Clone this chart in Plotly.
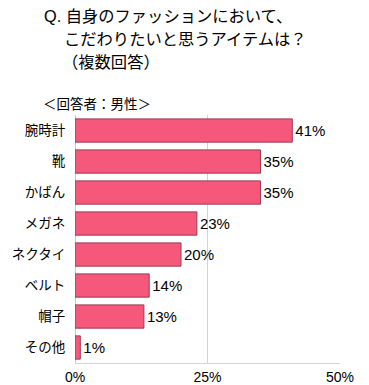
import plotly.graph_objects as go

categories = ["腕時計", "靴", "かばん", "メガネ", "ネクタイ", "ベルト", "帽子", "その他"]
values = [41, 35, 35, 23, 20, 14, 13, 1]
tick_vals = [0, 25, 50]
tick_text = ["0%", "25%", "50%"]

W, H = 369, 385
L, R, T, B = 75, 29, 115, 22
PW, PH = W - L - R, H - T - B

def px_x(p):
    return (p - L) / PW

def px_y(p):
    return (H - B - p) / PH

FONT = "Liberation Sans, Arial, Noto Sans CJK JP, sans-serif"

fig = go.Figure(go.Bar(
    x=values,
    y=categories,
    orientation="h",
    marker=dict(color="#f5587a", line=dict(color="#9a3c50", width=1)),
    text=[f"{v}%" for v in values],
    textposition="outside",
    constraintext="none",
    textfont=dict(size=15, color="#000000", family=FONT),
    cliponaxis=False,
    hoverinfo="skip",
))

fig.update_layout(
    width=W, height=H,
    margin=dict(l=L, r=R, t=T, b=B),
    paper_bgcolor="white", plot_bgcolor="white",
    bargap=0.25,
    showlegend=False,
    font=dict(family=FONT, size=13, color="#000000"),
    xaxis=dict(range=[0, 50], tickvals=tick_vals, ticktext=tick_text,
               showgrid=True, gridcolor="#d4d4d4", gridwidth=1,
               zeroline=True, zerolinecolor="#c8c8c8", zerolinewidth=1,
               showline=True, linecolor="#d4d4d4", linewidth=1,
               ticks="outside", ticklen=1, tickcolor="rgba(0,0,0,0)",
               tickfont=dict(size=14), fixedrange=True, automargin=False),
    yaxis=dict(categoryorder="array", categoryarray=categories[::-1],
               showgrid=False, zeroline=False, showline=False,
               ticks="outside", ticklen=6, tickcolor="rgba(0,0,0,0)",
               tickfont=dict(size=13.5), automargin=False, fixedrange=True),
)

title_lines = [
    ("Q. 自身のファッションにおいて、", 42, 16),
    ("こだわりたいと思うアイテムは？", 62, 39),
    ("（複数回答）", 60, 62),
]
for txt, x0, y0 in title_lines:
    fig.add_annotation(text=txt, xref="paper", yref="paper",
                       x=px_x(x0), y=px_y(y0), xanchor="left", yanchor="middle",
                       showarrow=False,
                       font=dict(size=16.3, color="#000000", family=FONT))

fig.add_annotation(text="＜回答者：男性＞", xref="paper", yref="paper",
                   x=px_x(41), y=px_y(104), xanchor="left", yanchor="middle",
                   showarrow=False, font=dict(size=13.5, color="#000000", family=FONT))

fig.write_html("out.html",
               config={"displayModeBar": False},
               post_script="document.body.style.margin='0';document.body.style.padding='0';")
